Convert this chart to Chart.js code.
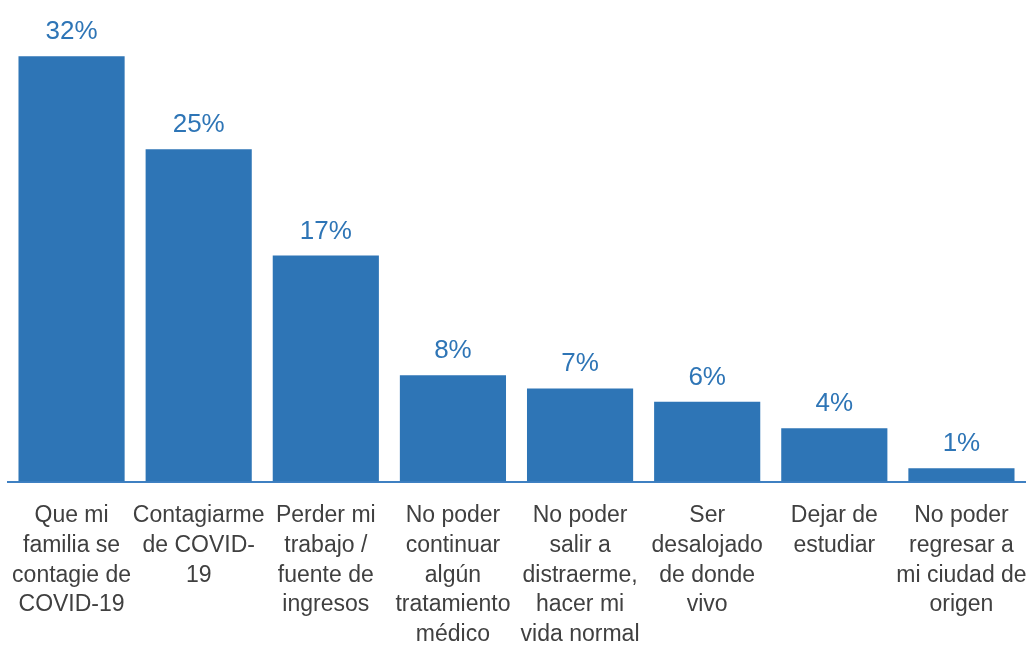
<!DOCTYPE html>
<html>
<head>
<meta charset="utf-8">
<script src="https://cdn.jsdelivr.net/npm/chart.js@4"></script>
<style>
  body { margin: 0; background: #fff; }
  canvas { display: block; }
</style>
</head>
<body>
<canvas id="miedoChart" width="1028" height="646"></canvas>
<script>
const categories = [
  ["Que mi", "familia se", "contagie de", "COVID-19"],
  ["Contagiarme", "de COVID-", "19"],
  ["Perder mi", "trabajo /", "fuente de", "ingresos"],
  ["No poder", "continuar", "algún", "tratamiento", "médico"],
  ["No poder", "salir a", "distraerme,", "hacer mi", "vida normal"],
  ["Ser", "desalojado", "de donde", "vivo"],
  ["Dejar de", "estudiar"],
  ["No poder", "regresar a", "mi ciudad de", "origen"]
];
const percentages = [32, 25, 17, 8, 7, 6, 4, 1];

const blue = "#2E75B6";
const fontFamily = "'Liberation Sans Narrow', 'Arial Narrow', 'Liberation Sans', Arial, sans-serif";

// writes the percentage above each bar
const valueLabels = {
  id: "valueLabels",
  afterDatasetsDraw(chart) {
    const ctx = chart.ctx;
    const meta = chart.getDatasetMeta(0);
    ctx.save();
    ctx.fillStyle = blue;
    ctx.font = "26px " + fontFamily;
    ctx.textAlign = "center";
    ctx.textBaseline = "alphabetic";
    meta.data.forEach((bar, i) => {
      ctx.fillText(percentages[i] + "%", bar.x, bar.y - 17);
    });
    ctx.restore();
  }
};

const ctx = document.getElementById("miedoChart").getContext("2d");
new Chart(ctx, {
  type: "bar",
  data: {
    labels: categories,
    datasets: [{
      data: percentages,
      backgroundColor: blue,
      borderWidth: 0,
      categoryPercentage: 1,
      barPercentage: 0.835
    }]
  },
  options: {
    responsive: false,
    animation: false,
    layout: { padding: { left: 8, right: 3, top: 3, bottom: -23 } },
    plugins: {
      legend: { display: false },
      tooltip: { enabled: false }
    },
    scales: {
      x: {
        grid: { display: false, drawTicks: false },
        border: { display: true, color: "#3F80C2", width: 2 },
        ticks: {
          color: "#404040",
          font: { family: fontFamily, size: 23, lineHeight: 1.3 },
          padding: 19,
          maxRotation: 0,
          autoSkip: false
        },
        // keep the axis spanning the full width instead of making room for wide labels
        afterFit(scale) {
          scale.paddingLeft = 0;
          scale.paddingRight = 0;
        }
      },
      y: {
        display: false,
        min: 0,
        max: 36
      }
    }
  },
  plugins: [valueLabels]
});
</script>
</body>
</html>
